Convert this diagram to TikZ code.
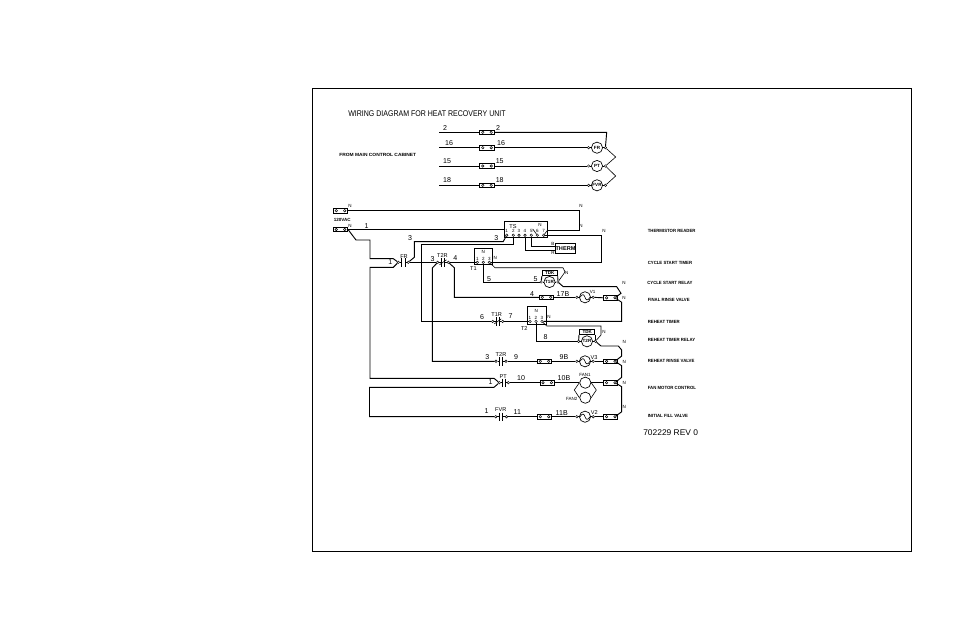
\documentclass[tikz,border=0pt]{standalone}
\usepackage{fontspec}
\setmainfont{Liberation Sans}
\usetikzlibrary{calc}
\newcommand{\szA}{\fontsize{5.3pt}{6pt}\selectfont}
\newcommand{\szT}{\fontsize{6.2pt}{7pt}\selectfont}
\newcommand{\szB}{\fontsize{4.2pt}{5pt}\selectfont}
\newcommand{\szC}{\fontsize{3.4pt}{4pt}\selectfont}
\tikzset{
  x=0.75pt,y=-0.75pt,
  wire/.style={line width=0.7pt,line join=miter},
  thinw/.style={line width=0.45pt},
  lab/.style={inner sep=0pt,font=\szA},
  bigt/.style={inner sep=0pt,font=\szT,anchor=west},
  sml/.style={inner sep=0pt,font=\szB},
  tin/.style={inner sep=0pt,font=\szC},
  desc/.style={inner sep=0pt,font=\szC\bfseries,anchor=west},
  term/.style={circle,draw,fill=white,inner sep=0pt,minimum size=1.9pt,line width=0.35pt},
  fusebox/.style={rectangle,draw,inner sep=0pt,minimum width=10.6pt,minimum height=3.4pt,line width=0.7pt},
  motor/.style={circle,draw,inner sep=0pt,minimum size=8.4pt,line width=0.5pt,font=\szC\bfseries},
  tmr/.style={rectangle,draw,inner sep=0pt,line width=0.7pt},
}
% fuse: name, centre x, y
\newcommand{\fuse}[3]{%
  \node[fusebox] (#1) at (#2,#3) {};
  \node[term] (#1a) at (#2-4.2,#3) {};
  \node[term] (#1b) at (#2+4.2,#3) {};
}
% normally open contact: name, left x, right x, y
\newcommand{\nocontact}[4]{%
  \node[term] (#1L) at (#2,#4) {};
  \node[term] (#1R) at (#3,#4) {};
  \coordinate (#1m) at ({(#2+#3)/2},#4);
  \draw[wire] (#1L) -- ($(#1m)+(-1.7,0)$) ($(#1m)+(1.7,0)$) -- (#1R)
    ($(#1m)+(-1.7,-4.2)$) -- ($(#1m)+(-1.7,4.2)$)
    ($(#1m)+(1.7,-4.2)$) -- ($(#1m)+(1.7,4.2)$);
}
% normally closed contact
\newcommand{\nccontact}[4]{%
  \nocontact{#1}{#2}{#3}{#4}
  \draw[thinw] ($(#1m)+(-3.5,2.5)$) -- ($(#1m)+(3.5,-2.5)$);
}
% valve: name, cx, y
\newcommand{\valve}[3]{%
  \node[motor] (#1) at (#2,#3) {};
  \node[term] (#1L) at (#2-8.2,#3) {};
  \node[term] (#1R) at (#2+8.2,#3) {};
  \draw[thinw] (#1L) -- (#1.west) (#1.east) -- (#1R);
  \draw[thinw] (#2-5,#3) .. controls (#2-2.5,#3-4) and (#2-1,#3-3) .. (#2,#3)
    .. controls (#2+1,#3+3) and (#2+2.5,#3+4) .. (#2+5,#3);
}
% device with letters and side terminals
\newcommand{\device}[4]{%
  \node[motor] (#1) at (#2,#3) {#4};
  \node[term] (#1L) at (#2-8.4,#3) {};
  \node[term] (#1R) at (#2+8.4,#3) {};
  \draw[thinw] (#1L) -- (#1.west) (#1.east) -- (#1R);
}
\begin{document}
\begin{tikzpicture}
\useasboundingbox (0,0) rectangle (954,618);
\node[inner sep=0pt,minimum width=449.25pt,minimum height=347.25pt,draw,line width=0.7pt] (frame) at (611.5,319.5) {};

\node[bigt] (title) at (348,113.5) {\scalebox{0.85}[1]{WIRING DIAGRAM FOR HEAT RECOVERY UNIT}};
\node[desc] (cab) at (339,154.5) {\scalebox{1.08}[1]{FROM MAIN CONTROL CABINET}};

% ---- upper supply rows
\coordinate (s2) at (439,132.3);
\coordinate (s16) at (439,147.7);
\coordinate (s15) at (439,166);
\coordinate (s18) at (439,185.3);
\fuse{fa}{487}{132.3}
\fuse{fb}{487}{147.7}
\fuse{fc}{487}{166}
\fuse{fd}{487}{185.3}
\device{FRc}{597}{147.7}{FR}
\device{PTc}{597}{166}{PT}
\device{FVRc}{597}{185.3}{FVR}
\draw[wire] (s2) -- (fa);
\draw[wire] (s16) -- (fb);
\draw[wire] (s15) -- (fc);
\draw[wire] (s18) -- (fd);
\coordinate (corner2) at (606.7,132.3);
\draw[wire] (fa.east) -- (corner2) -- (FRcR);
\draw[wire] (fb.east) -- (FRcL);
\draw[wire] (fc.east) -- (PTcL);
\draw[wire] (fd.east) -- (FVRcL);
\coordinate (zz1) at (615.7,157);
\coordinate (zz2) at (615.7,176);
\draw[thinw] (FRcR) -- (zz1) -- (PTcR) -- (zz2) -- (FVRcR);

\node[lab] (l2a) at (445,127.7) {2};
\node[lab] (l2b) at (498,127.7) {2};
\node[lab] (l16a) at (449,143) {16};
\node[lab] (l16b) at (501,143) {16};
\node[lab] (l15a) at (447,161.5) {15};
\node[lab] (l15b) at (499.7,161) {15};
\node[lab] (l18a) at (447,180) {18};
\node[lab] (l18b) at (499.7,180.5) {18};

% ---- line terminals
\fuse{fn}{340.5}{210.7}
\fuse{fl}{340.5}{229.5}
\node[tin] (tN1) at (350,205.5) {N};
\node[tin] (tN2) at (350,226.3) {N};
\node[desc,anchor=center] (v120) at (342.3,220.3) {120VAC};
\node[lab] (l1t) at (366.7,226) {1};

% ---- TS box
\node[tmr,minimum width=32.5pt,minimum height=11.7pt] (TS) at (526,229.6) {};
\node[sml] (TSl) at (513,226.7) {TS};
\node[tin] (TSn) at (540,224.7) {N};
\foreach \i/\xx in {1/506.7,2/513.3,3/519,4/525,5/531.3,6/537.3,7/543.7}{
  \node[term] (ts\i) at (\xx,235.2) {};
  \node[tin] (tsd\i) at (\xx,231.4) {\i};
}
% ---- THERM
\node[tmr,minimum width=13.8pt,minimum height=7.2pt,font=\szB\bfseries] (TH) at (565.5,248.3) {THERM};
\node[tin] (thB) at (553,243.7) {B};
\node[tin] (thR) at (553,253) {R};
\draw[wire] (ts5) -- (ts5 |- 0,246.6) coordinate (th5) -- (TH.west |- 0,246.6);
\draw[wire] (ts4) -- (ts4 |- 0,250.6) coordinate (th4) -- (TH.west |- 0,250.6);

% ---- T1 box
\node[tmr,minimum width=13.8pt,minimum height=12.5pt] (T1) at (483.2,256.6) {};
\node[tin] (T1n) at (483.3,251.5) {N};
\node[sml] (T1l) at (473.5,269) {T1};
\foreach \i/\xx in {1/477.3,2/483.3,3/489.3}{
  \node[term] (ta\i) at (\xx,262.3) {};
  \node[tin] (tad\i) at (\xx,258.9) {\i};
}
\node[tin] (T1N) at (495.3,258.3) {N};

% ---- T2 box
\node[tmr,minimum width=14.5pt,minimum height=13.2pt] (T2) at (537,315.5) {};
\node[tin] (T2n) at (536.3,310.7) {N};
\node[sml] (T2l) at (524.3,328.7) {T2};
\foreach \i/\xx in {1/530,2/536,3/542}{
  \node[term] (tb\i) at (\xx,321.4) {};
  \node[tin] (tbd\i) at (\xx,318) {\i};
}
\node[tin] (T2N) at (549,317) {N};

% ---- contacts
\nocontact{cFR}{398.3}{408.3}{262.3}
\nccontact{cT2a}{437.7}{448.3}{262.3}
\nccontact{cT1}{492.7}{502.7}{321.4}
\nocontact{cT2}{496}{506}{361.3}
\nocontact{cPT}{499.3}{508.3}{382.7}
\nocontact{cFVR}{495.7}{506.5}{416.7}
\node[sml] (lFR) at (404,256.7) {FR};
\node[sml] (lT2a) at (442.5,256) {T2R};
\node[sml] (lT1) at (496.7,315) {T1R};
\node[sml] (lT2) at (501,355) {T2R};
\node[sml] (lPT) at (503.3,376.3) {PT};
\node[sml] (lFVR) at (500.7,409.5) {FVR};

% ---- relays
\device{RT1}{549.5}{282}{T1R}
\device{RT2}{587}{341.3}{T2R}
\node[tmr,minimum width=11.2pt,minimum height=3.8pt,font=\szC\bfseries] (KT1) at (549.8,273.2) {TDK};
\node[tmr,minimum width=11.6pt,minimum height=3.4pt,font=\szC\bfseries] (KT2) at (587.2,332.2) {TDK};
\draw[wire] (KT1.south west) -- (RT1L);
\draw[wire] (KT1.south east) -- (RT1R);
\draw[wire] (KT2.south west) -- (RT2L);
\draw[wire] (KT2.south east) -- (RT2R);

% ---- valve / fuse rows
\fuse{f17}{546.5}{297.3}
\fuse{fr17}{610.8}{297.8}
\valve{V1}{585}{297.3}
\fuse{f9}{544.5}{361.3}
\fuse{fr9}{610.8}{361.3}
\valve{V3}{585}{361.3}
\fuse{f10}{547.2}{382.7}
\fuse{fr10}{610.8}{382.7}
\node[motor] (FAN1) at (585.3,382.7) {};
\node[motor] (FAN2) at (585.3,397.7) {};
\fuse{f11}{544.5}{416.7}
\fuse{fr11}{610.8}{416.7}
\valve{V2}{585}{416.7}

% ---- wiring of the ladder
\coordinate (j1a) at (356,240);
\coordinate (j1b) at (370,240);
\coordinate (j1c) at (370,258.7);
\coordinate (j1d) at (393.3,258.7);
\draw[wire] (fn.east) -- (579,210.7) coordinate (nTop) -- (579,230) coordinate (nTS) -- (TS.east |- 0,230);
\draw[wire] (fl.east) -- (TS.west |- 0,229.5);
\draw[wire] (fl.east) -- (j1a) -- (j1b) -- (j1c) -- (j1d) -- (cFRL);
\coordinate (j2a) at (393.3,267.3);
\coordinate (j2b) at (370,267.3);
\coordinate (j2c) at (370,378.3);
\coordinate (j2d) at (494,378.3);
\draw[wire] (cFRL) -- (j2a) -- (j2b) -- (j2c) -- (j2d) -- (cPTL);
\coordinate (j3a) at (494,387.3);
\coordinate (j3b) at (369.5,387.3);
\coordinate (j3c) at (369.5,416.7);
\draw[wire] (cPTL) -- (j3a) -- (j3b) -- (j3c) -- (cFVRL);
% FR out
\coordinate (j4a) at (414.3,257.3);
\coordinate (j4b) at (414.3,241.7);
\coordinate (j4c) at (503.2,241.7);
\draw[wire] (cFRR) -- (j4a) -- (j4b) -- (j4c) -- (ts1);
\draw[wire] (cFRR) -- (cT2aL);
\draw[wire] (cT2aR) -- (ta1);
% line 3 to TS2 and T1R
\coordinate (j5a) at (513.3,244.3);
\coordinate (j5b) at (421.7,244.3);
\coordinate (j5c) at (421.7,321.4);
\draw[wire] (ts2) -- (j5a) -- (j5b) -- (j5c) -- (cT1L);
\draw[wire] (cT1R) -- (tb1);
% T2R contact branch
\coordinate (j6a) at (432.3,268);
\coordinate (j6b) at (432.3,361.3);
\draw[wire] (cT2aL) -- (j6a) -- (j6b) -- (cT2L);
\coordinate (j7a) at (454.3,267.7);
\coordinate (j7b) at (454.3,297.3);
\draw[wire] (cT2aR) -- (j7a) -- (j7b) -- (f17.west);
% TS7 / T1 return
\coordinate (j8a) at (601.3,235.2);
\coordinate (j8b) at (601.3,262.3);
\draw[wire] (ts7) -- (j8a) -- (j8b) -- (ta3);
\coordinate (j8c) at (547.7,230);
\draw[thinw] (ts7) -- (j8c);
\coordinate (j8d) at (532.7,229);
\draw[thinw] (j8d) -- (ts6);
% T1 N to relay
\coordinate (j9a) at (495,267.7);
\coordinate (j9b) at (563,267.7);
\coordinate (j9c) at (565,272);
\draw[thinw] (ta3) -- (j9a) -- (j9b) -- (j9c) -- (RT1R);
\coordinate (j10a) at (483.3,282);
\draw[wire] (ta2) -- (j10a) -- (RT1L);
% rail V1
\coordinate (r1) at (563.3,286.7);
\coordinate (r2) at (616.7,286.7);
\coordinate (r3) at (621,293.3);
\draw[wire] (RT1R) -- (r1) -- (r2) -- (r3) -- (fr17b);
\coordinate (r4) at (621.7,302.3);
\coordinate (r5) at (621.7,321.4);
\draw[wire] (fr17b) -- (r4) -- (r5) -- (tb3);
% T2 to relay
\coordinate (k1) at (536,341.3);
\draw[wire] (tb2) -- (k1) -- (RT2L);
\coordinate (k2) at (546.7,326);
\coordinate (k3) at (601,326);
\coordinate (k4) at (601,335);
\draw[thinw] (tb3) -- (k2) -- (k3) -- (k4) -- (RT2R);
\coordinate (k5) at (601,346);
\coordinate (k6) at (618.3,346);
\coordinate (k7) at (621.7,350);
\coordinate (k8) at (621.7,356);
\draw[wire] (RT2R) -- (k5) -- (k6) -- (k7) -- (k8) -- (fr9b);
\coordinate (k9) at (621.7,365.7);
\coordinate (k10) at (621.7,377.3);
\draw[wire] (fr9b) -- (k9) -- (k10) -- (fr10b);
\coordinate (k11) at (621.7,386.7);
\coordinate (k12) at (621.7,411.7);
\draw[wire] (fr10b) -- (k11) -- (k12) -- (fr11b);
% rows
\draw[wire] (f17.east) -- (V1L);
\draw[wire] (V1R) -- (fr17.west);
\draw[wire] (cT2R) -- (f9.west);
\draw[wire] (f9.east) -- (V3L);
\draw[wire] (V3R) -- (fr9.west);
\draw[wire] (cPTR) -- (f10.west);
\draw[wire] (f10.east) -- (FAN1.west);
\draw[wire] (FAN1.east) -- (fr10.west);
\draw[wire] (cFVRR) -- (f11.west);
\draw[wire] (f11.east) -- (V2L);
\draw[wire] (V2R) -- (fr11.west);
% fans in parallel
\coordinate (fa1) at (574.3,390);
\coordinate (fa2) at (596.3,390);
\draw[thinw] (FAN1.west) -- (fa1) -- (FAN2.west);
\draw[thinw] (FAN1.east) -- (fa2) -- (FAN2.east);

% ---- wire labels
\node[lab] (w3a) at (410,238) {3};
\node[lab] (w3b) at (496.3,237.7) {3};
\node[lab] (w1a) at (390.3,262) {1};
\node[lab] (w3c) at (432.7,258.7) {3};
\node[lab] (w4a) at (455.3,258.3) {4};
\node[lab] (w5a) at (489,278.7) {5};
\node[lab] (w5b) at (535.5,278.7) {5};
\node[lab] (w4b) at (532,294) {4};
\node[lab] (w17) at (563,294) {17B};
\node[tin] (lV1) at (592.6,292) {V1};
\node[lab] (w6) at (482,317) {6};
\node[lab] (w7) at (510.7,316.5) {7};
\node[lab] (w8) at (545.7,337.5) {8};
\node[lab] (w3d) at (487.3,357) {3};
\node[lab] (w9) at (516,357) {9};
\node[lab] (w9B) at (564,357) {9B};
\node[sml] (lV3) at (594,358) {V3};
\node[lab] (w1b) at (490.7,382.5) {1};
\node[lab] (w10) at (521,378) {10};
\node[lab] (w10B) at (564,378) {10B};
\node[tin] (lF1) at (585,374.7) {FAN1};
\node[tin] (lF2) at (571.7,399) {FAN2};
\node[lab] (w1c) at (486.5,411.5) {1};
\node[lab] (w11) at (517.3,412) {11};
\node[lab] (w11B) at (561.7,412.7) {11B};
\node[sml] (lV2) at (594.3,413) {V2};

% ---- N marks
\node[tin] (n1) at (581,206) {N};
\node[tin] (n2) at (581,226) {N};
\node[tin] (n3) at (604,231) {N};
\node[tin] (n4) at (566.7,273.3) {N};
\node[tin] (n5) at (624,282.7) {N};
\node[tin] (n6) at (624,298) {N};
\node[tin] (n7) at (604,332.3) {N};
\node[tin] (n8) at (624.3,342) {N};
\node[tin] (n9) at (624.3,361.7) {N};
\node[tin] (n10) at (624.3,382.7) {N};
\node[tin] (n11) at (624.3,407) {N};

% ---- descriptions
\node[desc] (d1) at (647.5,231) {\scalebox{0.95}[1]{THERMISTOR READER}};
\node[desc] (d2) at (647.5,263) {\scalebox{0.95}[1]{CYCLE START TIMER}};
\node[desc] (d3) at (647,282.7) {\scalebox{0.95}[1]{CYCLE START RELAY}};
\node[desc] (d4) at (647.5,300) {\scalebox{0.95}[1]{FINAL RINSE VALVE}};
\node[desc] (d5) at (647.5,321.7) {\scalebox{0.95}[1]{REHEAT TIMER}};
\node[desc] (d6) at (647.5,340) {\scalebox{0.95}[1]{REHEAT TIMER RELAY}};
\node[desc] (d7) at (647.5,361) {\scalebox{0.95}[1]{REHEAT RINSE VALVE}};
\node[desc] (d8) at (647.5,388) {\scalebox{0.95}[1]{FAN MOTOR CONTROL}};
\node[desc] (d9) at (647.5,416) {\scalebox{0.95}[1]{INITIAL FILL VALVE}};
\node[bigt] (rev) at (643,433) {\scalebox{1.02}[1]{702229 REV 0}};
\end{tikzpicture}
\end{document}
